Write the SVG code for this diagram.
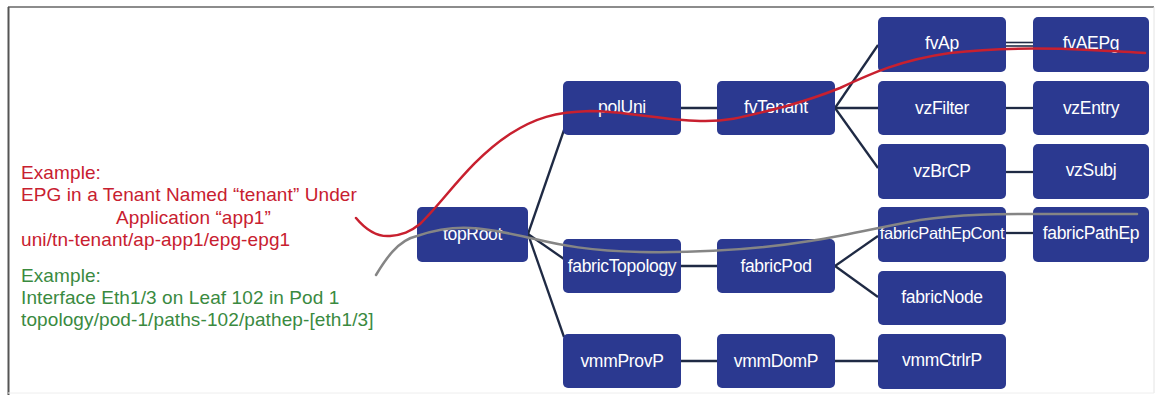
<svg xmlns="http://www.w3.org/2000/svg" width="1155" height="395" viewBox="0 0 1155 395">
<style>
.node rect{fill:#2B3990;}
.node text{fill:#FFFFFF;font-family:"Liberation Sans",Arial,sans-serif;font-size:17.5px;letter-spacing:-0.3px;text-anchor:middle;}
.conn line{stroke:#1F2A44;stroke-width:2.3;}
.red{fill:#C8202F;font-family:"Liberation Sans",Arial,sans-serif;font-size:19px;letter-spacing:0.1px;}
.green{fill:#3A8A3F;font-family:"Liberation Sans",Arial,sans-serif;font-size:19px;letter-spacing:0.1px;}
</style>
<rect x="0" y="0" width="1155" height="395" fill="#FFFFFF"/>
<g id="frame">
<line x1="8" y1="7" x2="1154" y2="7" stroke="#666666" stroke-width="1.5"/>
<line x1="8.5" y1="7" x2="8.5" y2="395" stroke="#555555" stroke-width="2"/>
<line x1="1154" y1="7" x2="1154" y2="393" stroke="#E4E4E4" stroke-width="1"/>
<line x1="8" y1="393" x2="1154" y2="393" stroke="#EEEEEE" stroke-width="1"/>
</g>
<g id="labels">
<text class="red" x="21" y="179">Example:</text>
<text class="red" x="21" y="201">EPG in a Tenant Named “tenant” Under</text>
<text class="red" x="116" y="223.5">Application “app1”</text>
<text class="red" x="21" y="246">uni/tn-tenant/ap-app1/epg-epg1</text>
<text class="green" x="21" y="281.5">Example:</text>
<text class="green" x="21" y="304">Interface Eth1/3 on Leaf 102 in Pod 1</text>
<text class="green" x="21" y="326">topology/pod-1/paths-102/pathep-[eth1/3]</text>
</g>
<g id="connectors" class="conn">
<line x1="528" y1="234" x2="564" y2="130"/>
<line x1="528" y1="234" x2="564" y2="259"/>
<line x1="528" y1="234" x2="564" y2="337"/>
<line x1="681" y1="108" x2="717" y2="108"/>
<line x1="681" y1="266" x2="717" y2="266"/>
<line x1="681" y1="361" x2="717" y2="361"/>
<line x1="835" y1="108" x2="878" y2="45"/>
<line x1="835" y1="108" x2="878" y2="108"/>
<line x1="835" y1="108" x2="878" y2="168"/>
<line x1="835" y1="266" x2="878" y2="236"/>
<line x1="835" y1="266" x2="878" y2="297"/>
<line x1="835" y1="361" x2="878" y2="361"/>
<line x1="1006" y1="42.5" x2="1033" y2="42.5" style="stroke-width:1.6"/>
<line x1="1006" y1="46" x2="1033" y2="46" style="stroke-width:1.6"/>
<line x1="1006" y1="108" x2="1033" y2="108"/>
<line x1="1006" y1="172" x2="1033" y2="172"/>
<line x1="1006" y1="233" x2="1033" y2="233"/>
</g>
<g id="topRoot" class="node"><rect x="417" y="207" width="111" height="55" rx="5"/><text x="472.5" y="240">topRoot</text></g>
<g id="polUni" class="node"><rect x="563" y="81" width="118" height="54" rx="5"/><text x="622" y="113">polUni</text></g>
<g id="fvTenant" class="node"><rect x="717" y="81" width="118" height="54" rx="5"/><text x="776" y="113">fvTenant</text></g>
<g id="fabricTopology" class="node"><rect x="563" y="239" width="118" height="54" rx="5"/><text x="622" y="272">fabricTopology</text></g>
<g id="fabricPod" class="node"><rect x="717" y="239" width="118" height="54" rx="5"/><text x="776" y="272">fabricPod</text></g>
<g id="vmmProvP" class="node"><rect x="563" y="334" width="118" height="54" rx="5"/><text x="622" y="367">vmmProvP</text></g>
<g id="vmmDomP" class="node"><rect x="717" y="334" width="118" height="54" rx="5"/><text x="776" y="367">vmmDomP</text></g>
<g id="fvAp" class="node"><rect x="878" y="17" width="128" height="55" rx="5"/><text x="942" y="49">fvAp</text></g>
<g id="vzFilter" class="node"><rect x="878" y="81" width="128" height="54" rx="5"/><text x="942" y="114">vzFilter</text></g>
<g id="vzBrCP" class="node"><rect x="878" y="144" width="128" height="55" rx="5"/><text x="942" y="177">vzBrCP</text></g>
<g id="fabricPathEpCont" class="node"><rect x="878" y="207" width="128" height="55" rx="5"/><text x="942" y="239" style="font-size:16.5px">fabricPathEpCont</text></g>
<g id="fabricNode" class="node"><rect x="878" y="271" width="128" height="54" rx="5"/><text x="942" y="303">fabricNode</text></g>
<g id="vmmCtrlrP" class="node"><rect x="878" y="334" width="128" height="55" rx="5"/><text x="942" y="366">vmmCtrlrP</text></g>
<g id="fvAEPg" class="node"><rect x="1033" y="17" width="116" height="55" rx="5"/><text x="1091" y="49">fvAEPg</text></g>
<g id="vzEntry" class="node"><rect x="1033" y="81" width="116" height="54" rx="5"/><text x="1091" y="114">vzEntry</text></g>
<g id="vzSubj" class="node"><rect x="1033" y="144" width="116" height="55" rx="5"/><text x="1091" y="176">vzSubj</text></g>
<g id="fabricPathEp" class="node"><rect x="1033" y="207" width="116" height="55" rx="5"/><text x="1091" y="239">fabricPathEp</text></g>
<g id="paths" fill="none" stroke-width="2.5" stroke-linecap="round">
<path d="M356,218 C366,230 378,237 390,236 C402,235 410,232 420,224 C445,200 470,160 510,134 C535,118 555,112 590,111 C625,111 660,120 700,121 C730,122 750,115 783,107 C805,101 820,96 840,88 C870,74 900,60 950,53 C1000,47 1050,48 1090,50 C1110,51 1130,52 1145,53" stroke="#C8202F"/>
<path d="M376,275 C385,260 398,240 417,236 C435,230 450,227 470,228 C495,229 515,235 535,239 C560,245 590,251 640,252 C700,253 760,249 810,241 C840,237 870,229 920,220 C960,214 1000,214 1040,214 C1080,214 1110,214 1137,214" stroke="#858585"/>
</g>
</svg>
